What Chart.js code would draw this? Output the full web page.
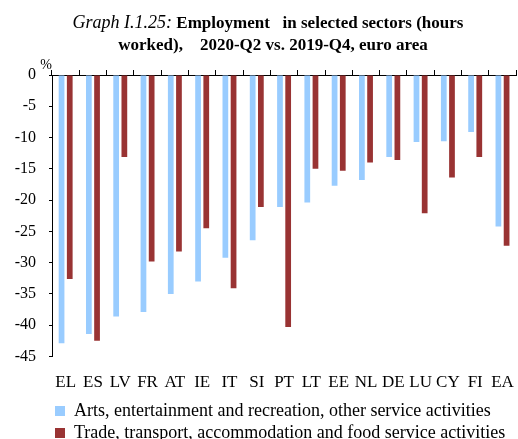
<!DOCTYPE html>
<html>
<head>
<meta charset="utf-8">
<script src="https://cdn.jsdelivr.net/npm/chart.js@4.4.1/dist/chart.umd.min.js"></script>
<style>
  html, body { margin: 0; padding: 0; width: 518px; height: 439px; overflow: hidden; background: #fff; }
  #wrap { position: relative; width: 518px; height: 439px; overflow: hidden; }
  #c { position: absolute; left: 0; top: 0; }
  #title { position: absolute; left: 0; top: 11px; width: 536px; text-align: center;
           font-family: "Liberation Serif", "Times New Roman", serif; font-size: 17px; line-height: 22px;
           color: #000; font-weight: bold; white-space: nowrap; }
  #title i { font-weight: normal; font-size: 18px; }
  #title .l2 { position: relative; left: 5px; }
</style>
</head>
<body>
<div id="wrap">
  <canvas id="c" width="522" height="452" style="width:522px;height:452px"></canvas>
  <div id="title"><i>Graph I.1.25:</i> Employment &nbsp; in selected sectors (hours<br><span class="l2">worked), &nbsp;&nbsp;&nbsp;2020-Q2 vs. 2019-Q4, euro area</span></div>
</div>
<script>
const categories = ['EL','ES','LV','FR','AT','IE','IT','SI','PT','LT','EE','NL','DE','LU','CY','FI','EA'];
const artsValues = [-42.9,-41.4,-38.6,-37.9,-35.0,-33.0,-29.2,-26.4,-21.1,-20.4,-17.7,-16.8,-13.1,-10.7,-10.6,-9.1,-24.2];
const tradeValues = [-32.6,-42.5,-13.1,-29.8,-28.2,-24.5,-34.1,-21.1,-40.3,-15.0,-15.3,-14.0,-13.6,-22.1,-16.4,-13.1,-27.3];
const seriesNames = ['Arts, entertainment and recreation, other service activities',
                     'Trade, transport, accommodation and food service activities'];
const yTickLabels = [0,-5,-10,-15,-20,-25,-30,-35,-40,-45];
const yUnit = '%';

const FONT = '"Liberation Serif", "Times New Roman", serif';
Chart.defaults.color = '#000';
Chart.defaults.font.family = FONT;
Chart.defaults.font.size = 16;

const extras = {
  id: 'extras',
  afterLayout(chart) {
    if (chart.legend) {
      const shift = 51 - chart.legend.left;
      chart.legend.left += shift;
      chart.legend.right += shift;
    }
  },
  afterDraw(chart) {
    const ys = chart.scales.y;
    const ctx = chart.ctx;
    ctx.save();
    ctx.fillStyle = '#000';
    ctx.font = '14px ' + FONT;
    ctx.textAlign = 'center';
    ctx.textBaseline = 'middle';
    ctx.fillText(yUnit, ys.right - 6, chart.chartArea.top - 10);
    ctx.restore();
  }
};

new Chart(document.getElementById('c'), {
  type: 'bar',
  data: {
    labels: categories,
    datasets: [
      { label: seriesNames[0], data: artsValues, backgroundColor: '#99CCFF', borderWidth: 0,
        categoryPercentage: 0.6, barPercentage: 0.7 },
      { label: seriesNames[1], data: tradeValues, backgroundColor: '#993333', borderWidth: 0,
        categoryPercentage: 0.6, barPercentage: 0.7 }
    ]
  },
  options: {
    responsive: false,
    animation: false,
    devicePixelRatio: 1,
    layout: { padding: { top: 70, right: 1, left: 0, bottom: 0 } },
    plugins: {
      title: { display: false },
      tooltip: { enabled: false },
      legend: {
        position: 'bottom',
        align: 'start',
        labels: { boxWidth: 10, boxHeight: 10, padding: 4, color: '#000', font: { size: 18, family: FONT } }
      }
    },
    scales: {
      x: {
        position: 'bottom',
        offset: true,
        grid: { display: false },
        border: { display: false },
        ticks: { autoSkip: false, maxRotation: 0, minRotation: 0, padding: 8, color: '#000', font: { size: 17 } },
        afterFit(s) { s.height = 41.5; }
      },
      xTop: {
        type: 'category',
        position: 'top',
        offset: true,
        grid: { offset: true, drawOnChartArea: false, drawTicks: true, tickLength: 5, color: '#000', lineWidth: 1 },
        border: { display: true, color: '#000', width: 1 },
        ticks: { display: false }
      },
      y: {
        min: -45,
        max: 0,
        afterBuildTicks(s) { s.ticks = yTickLabels.map(v => ({ value: v })); },
        grid: { drawOnChartArea: false, drawTicks: true, tickLength: 3, color: '#000', lineWidth: 1 },
        border: { display: true, color: '#000', width: 1 },
        ticks: { padding: 13, color: '#000', font: { size: 16 } },
        afterFit(s) { s.width = 52; }
      }
    }
  },
  plugins: [extras]
});
</script>
</body>
</html>
